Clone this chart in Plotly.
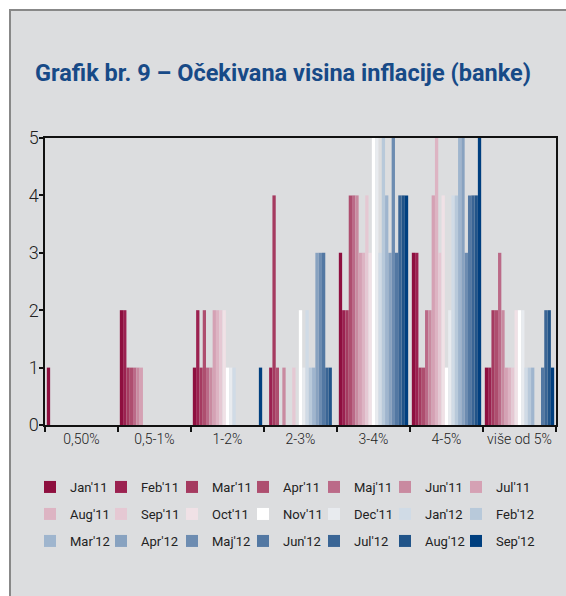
import plotly.graph_objects as go

categories = ["0,50%", "0,5-1%", "1-2%", "2-3%", "3-4%", "4-5%", "više od 5%"]

months = ["Jan'11", "Feb'11", "Mar'11", "Apr'11", "Maj'11", "Jun'11", "Jul'11",
          "Aug'11", "Sep'11", "Oct'11", "Nov'11", "Dec'11", "Jan'12", "Feb'12",
          "Mar'12", "Apr'12", "Maj'12", "Jun'12", "Jul'12", "Aug'12", "Sep'12"]

jan11 = [1, 2, 1, 0, 3, 3, 1]
feb11 = [0, 2, 2, 1, 2, 3, 1]
mar11 = [0, 1, 1, 4, 2, 1, 2]
apr11 = [0, 1, 2, 1, 4, 1, 2]
maj11 = [0, 1, 1, 0, 4, 2, 3]
jun11 = [0, 1, 1, 1, 4, 2, 2]
jul11 = [0, 1, 2, 0, 3, 4, 1]
aug11 = [0, 0, 2, 0, 3, 5, 1]
sep11 = [0, 0, 2, 1, 4, 3, 1]
oct11 = [0, 0, 2, 0, 3, 4, 2]
nov11 = [0, 0, 1, 2, 5, 1, 2]
dec11 = [0, 0, 1, 1, 5, 2, 2]
jan12 = [0, 0, 1, 2, 3, 4, 1]
feb12 = [0, 0, 0, 1, 5, 4, 1]
mar12 = [0, 0, 0, 1, 4, 5, 1]
apr12 = [0, 0, 0, 3, 3, 5, 0]
maj12 = [0, 0, 0, 3, 5, 3, 0]
jun12 = [0, 0, 0, 3, 3, 4, 1]
jul12 = [0, 0, 0, 1, 4, 4, 2]
aug12 = [0, 0, 0, 1, 4, 4, 2]
sep12 = [0, 0, 1, 0, 4, 5, 1]

series = [jan11, feb11, mar11, apr11, maj11, jun11, jul11, aug11, sep11, oct11,
          nov11, dec11, jan12, feb12, mar12, apr12, maj12, jun12, jul12, aug12, sep12]

colors = ["#8e0f3f", "#9b2150", "#a53a60", "#ae4e6f", "#bb6a88", "#c98aa0", "#d5a1b4",
          "#ddb4c3", "#e5c8d3", "#f0e1e6", "#ffffff", "#e8ebef", "#d0dbe6", "#b8c9da",
          "#9fb5ce", "#88a2c0", "#6d8cb1", "#5378a3", "#3a6595", "#215489", "#003f7f"]

FONT = "Roboto, Lato, sans-serif"
BG = "#dcdddf"

W, H = 566, 596
L, R, T, B = 45, 10, 138, 171
pw, ph = W - L - R, H - T - B


def px(x):
    return (x - L) / pw


def py(y):
    return (H - B - y) / ph


legend_ids = ["legend", "legend2", "legend3"]
row_centers = [487, 514, 541]

fig = go.Figure()
for i, (name, vals, col) in enumerate(zip(months, series, colors)):
    fig.add_trace(go.Bar(x=categories, y=vals, name=name,
                         legend=legend_ids[i // 7],
                         marker=dict(color=col, line=dict(width=0))))

legend_common = dict(orientation="h", xanchor="left", yanchor="middle",
                     entrywidth=26, entrywidthmode="pixels",
                     font=dict(family=FONT, size=13, color="#222222"),
                     bgcolor="rgba(0,0,0,0)", traceorder="normal", itemclick=False,
                     itemdoubleclick=False, borderwidth=0)

layout_legends = {}
for lid, yc in zip(legend_ids, row_centers):
    layout_legends[lid] = dict(legend_common, x=px(30), y=py(yc))

fig.update_layout(
    width=W, height=H,
    margin=dict(l=L, r=R, t=T, b=B, autoexpand=False),
    paper_bgcolor="white",
    plot_bgcolor=BG,
    barmode="group", bargap=0.05, bargroupgap=0,
    font=dict(family=FONT, color="#222222"),
    title=dict(text="<b>Grafik br. 9 – Očekivana visina inflacije (banke)</b>",
               x=0.5, xanchor="center", xref="container", y=1 - 73 / H, yanchor="middle",
               font=dict(family=FONT, size=23.5, color="#174a87")),
    shapes=[
        dict(type="rect", xref="paper", yref="paper", layer="below",
             x0=px(11), x1=px(580), y0=py(610), y1=py(11),
             fillcolor=BG, line=dict(width=0)),
        dict(type="rect", xref="paper", yref="paper", layer="above",
             x0=px(10), x1=px(590), y0=py(620), y1=py(10),
             fillcolor="rgba(0,0,0,0)", line=dict(color="#888888", width=2)),
    ],
    showlegend=True,
    **layout_legends,
)

fig.update_xaxes(showline=True, linecolor="#111111", linewidth=1.5, mirror=True,
                 ticks="outside", tickson="boundaries", ticklen=5, tickcolor="#111111",
                 tickwidth=1.5, tickangle=0, automargin=False,
                 tickfont=dict(family=FONT, size=14, color="#222222", weight=300),
                 showgrid=False)
fig.update_yaxes(range=[0, 5], dtick=1, showline=True, linecolor="#111111", linewidth=1.5,
                 mirror=True, ticks="outside", ticklen=4, tickcolor="#111111", tickwidth=1.5,
                 automargin=False, ticklabelstandoff=-3,
                 tickfont=dict(family=FONT, size=18, color="#222222", weight=300),
                 showgrid=False, zeroline=False)

post = (
    "document.body.style.margin='0';document.body.style.overflow='hidden';"
    "function unclip(){document.querySelectorAll('[clip-path]').forEach(function(e){"
    "var c=e.getAttribute('class')||'';var p=e.parentNode;"
    "var pc=(p&&p.getAttribute&&p.getAttribute('class'))||'';"
    "if(c.indexOf('scrollbox')>=0||pc.indexOf('legend')===0){e.removeAttribute('clip-path');}});}"
    "unclip();setTimeout(unclip,50);setTimeout(unclip,300);"
)

fig.write_html("out.html", config={"displayModeBar": False}, post_script=post)
